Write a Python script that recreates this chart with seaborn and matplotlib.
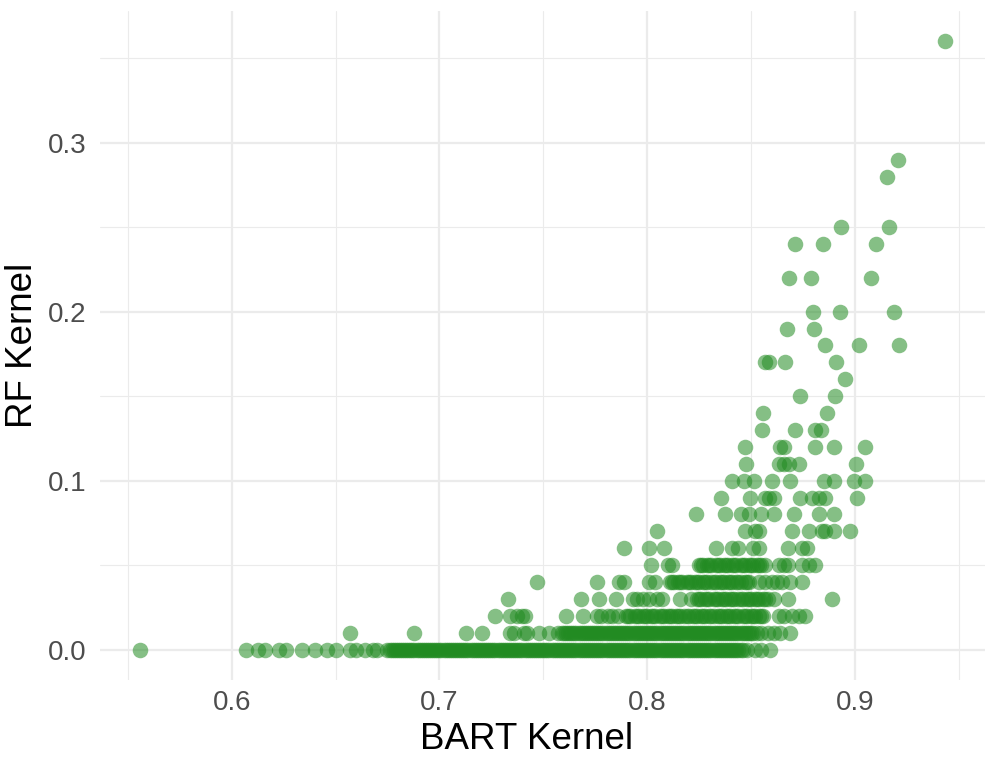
import matplotlib
matplotlib.use("Agg")
import matplotlib.pyplot as plt
import seaborn as sns
import pandas as pd
from matplotlib.ticker import MultipleLocator

# --- data: x values (BART kernel) for each RF-kernel level ---
x_000 = [0.556, 0.607, 0.6125, 0.616, 0.623, 0.626, 0.634, 0.640, 0.646, 0.650, 0.657, 0.660, 0.664, 0.668, 0.670,
         0.675, 0.677, 0.679, 0.681, 0.683, 0.685, 0.687, 0.689, 0.691, 0.693, 0.695, 0.697, 0.699, 0.701, 0.703,
         0.705, 0.707, 0.709, 0.711, 0.713, 0.715, 0.717, 0.719, 0.721, 0.723, 0.725, 0.727, 0.729, 0.731, 0.733,
         0.735, 0.737, 0.739, 0.741, 0.743, 0.745, 0.747, 0.749, 0.751, 0.753, 0.755, 0.757, 0.759, 0.761, 0.763,
         0.765, 0.767, 0.769, 0.771, 0.773, 0.775, 0.777, 0.779, 0.781, 0.783, 0.785, 0.787, 0.789, 0.791, 0.793,
         0.795, 0.797, 0.799, 0.801, 0.803, 0.805, 0.807, 0.809, 0.811, 0.813, 0.815, 0.817, 0.819, 0.821, 0.823,
         0.825, 0.827, 0.829, 0.831, 0.833, 0.835, 0.837, 0.839, 0.841, 0.843, 0.845, 0.848, 0.852, 0.855, 0.859,
         0.678, 0.684, 0.690, 0.696, 0.702, 0.708, 0.714, 0.720, 0.726, 0.732, 0.738, 0.744, 0.750, 0.756, 0.762,
         0.768, 0.774, 0.780, 0.786, 0.792, 0.798, 0.804, 0.810, 0.816, 0.822, 0.828, 0.834, 0.840, 0.846,
         0.676, 0.682, 0.688, 0.694, 0.700, 0.706, 0.712, 0.718, 0.724, 0.730, 0.736, 0.742, 0.748, 0.754, 0.760,
         0.766, 0.772, 0.778, 0.784, 0.790, 0.796, 0.802, 0.808, 0.814, 0.820, 0.826, 0.832, 0.838, 0.844,
         0.680, 0.686, 0.692, 0.698, 0.704, 0.710, 0.716, 0.722, 0.728, 0.734, 0.740, 0.746, 0.752, 0.758, 0.764,
         0.770, 0.776, 0.782, 0.788, 0.794, 0.800, 0.806, 0.812, 0.818, 0.824, 0.830, 0.836, 0.842]
x_001 = [0.657, 0.688, 0.713, 0.7205, 0.734, 0.736, 0.7405, 0.742, 0.748, 0.753, 0.757,
         0.759, 0.761, 0.763, 0.765, 0.767, 0.769, 0.771, 0.773, 0.775, 0.777, 0.779, 0.781, 0.783, 0.785, 0.787,
         0.789, 0.791, 0.793, 0.795, 0.797, 0.799, 0.801, 0.803, 0.805, 0.807, 0.809, 0.811, 0.813, 0.815, 0.817,
         0.819, 0.821, 0.823, 0.825, 0.827, 0.829, 0.831, 0.833, 0.835, 0.837, 0.839, 0.841, 0.843, 0.845, 0.847,
         0.849, 0.851, 0.853, 0.855, 0.858, 0.861, 0.864, 0.869,
         0.762, 0.768, 0.774, 0.780, 0.786, 0.792, 0.798, 0.804, 0.810, 0.816, 0.822, 0.828, 0.834, 0.840, 0.846,
         0.760, 0.766, 0.772, 0.778, 0.784, 0.790, 0.796, 0.802, 0.808, 0.814, 0.820, 0.826, 0.832, 0.838, 0.844,
         0.850, 0.764, 0.770, 0.776, 0.782, 0.788, 0.794, 0.800, 0.806, 0.812, 0.818, 0.824, 0.830, 0.836, 0.842,
         0.848]
x_002 = [0.727, 0.734, 0.7375, 0.740, 0.741, 0.761, 0.769, 0.776, 0.778, 0.781, 0.783, 0.786,
         0.790, 0.792, 0.794, 0.796, 0.798, 0.800, 0.802, 0.804, 0.806, 0.808, 0.810, 0.812, 0.814, 0.816, 0.818,
         0.820, 0.822, 0.824, 0.826, 0.828, 0.830, 0.832, 0.834, 0.836, 0.838, 0.840, 0.842, 0.844, 0.846, 0.848,
         0.850, 0.852, 0.854, 0.856, 0.8635, 0.866, 0.870, 0.873, 0.876,
         0.791, 0.795, 0.799, 0.803, 0.807, 0.811, 0.815, 0.819, 0.823, 0.827, 0.831, 0.835, 0.839, 0.843, 0.847,
         0.851, 0.855]
x_003 = [0.733, 0.768, 0.777, 0.785, 0.793, 0.795, 0.798, 0.801, 0.805, 0.807, 0.816, 0.821,
         0.824, 0.826, 0.828, 0.830, 0.832, 0.834, 0.836, 0.838, 0.840, 0.842, 0.844, 0.846, 0.848, 0.850, 0.852,
         0.854, 0.856, 0.858, 0.861, 0.868, 0.889,
         0.825, 0.829, 0.833, 0.837, 0.841, 0.845, 0.849, 0.853, 0.857]
x_004 = [0.747, 0.776, 0.7865, 0.789, 0.801, 0.804,
         0.811, 0.813, 0.815, 0.817, 0.819, 0.821, 0.823, 0.825, 0.827, 0.829, 0.831, 0.833, 0.835, 0.837, 0.839,
         0.841, 0.843, 0.845, 0.847, 0.849, 0.854, 0.857, 0.860, 0.8625, 0.865, 0.869, 0.8745,
         0.812, 0.816, 0.820, 0.824, 0.828, 0.832, 0.836, 0.840, 0.844, 0.848]
x_005 = [0.802, 0.810, 0.812,
         0.825, 0.827, 0.829, 0.831, 0.833, 0.835, 0.837, 0.839, 0.841, 0.843, 0.845, 0.847, 0.849, 0.851, 0.853,
         0.855, 0.857, 0.8635, 0.866, 0.868, 0.8745, 0.878, 0.881,
         0.826, 0.830, 0.834, 0.838, 0.842, 0.846, 0.850, 0.854]
x_006 = [0.789, 0.801, 0.808, 0.833, 0.841, 0.844, 0.851, 0.854, 0.868, 0.8745, 0.877]
x_007 = [0.805, 0.847, 0.852, 0.854, 0.870, 0.878, 0.884, 0.8855, 0.890, 0.8975]
x_008 = [0.8235, 0.8375, 0.845, 0.849, 0.855, 0.861, 0.8705, 0.883, 0.890]
x_009 = [0.8355, 0.8495, 0.857, 0.8587, 0.861, 0.8735, 0.8793, 0.883, 0.8856, 0.901]
x_010 = [0.841, 0.8466, 0.8514, 0.860, 0.8688, 0.885, 0.890, 0.8995, 0.905]
x_011 = [0.8476, 0.8635, 0.866, 0.8683, 0.873, 0.9005]
x_012 = [0.847, 0.864, 0.866, 0.881, 0.890, 0.905]
x_013 = [0.8553, 0.8712, 0.8808, 0.8837]
x_014 = [0.8558, 0.8865]
x_015 = [0.8736, 0.8904]
x_016 = [0.8952]
x_017 = [0.857, 0.8587, 0.8663, 0.891]
x_018 = [0.8856, 0.9019, 0.9212]
x_019 = [0.8673, 0.8803]
x_020 = [0.880, 0.8928, 0.9188]
x_022 = [0.8683, 0.8788, 0.9077]
x_024 = [0.8712, 0.8846, 0.910]
x_025 = [0.8933, 0.9163]
x_028 = [0.9154]
x_029 = [0.9207]
x_036 = [0.9433]

rows = {0.00: x_000, 0.01: x_001, 0.02: x_002, 0.03: x_003, 0.04: x_004, 0.05: x_005,
        0.06: x_006, 0.07: x_007, 0.08: x_008, 0.09: x_009, 0.10: x_010, 0.11: x_011,
        0.12: x_012, 0.13: x_013, 0.14: x_014, 0.15: x_015, 0.16: x_016, 0.17: x_017,
        0.18: x_018, 0.19: x_019, 0.20: x_020, 0.22: x_022, 0.24: x_024, 0.25: x_025,
        0.28: x_028, 0.29: x_029, 0.36: x_036}

xs, ys = [], []
for yv, xl in rows.items():
    xs.extend(xl)
    ys.extend([yv] * len(xl))
df = pd.DataFrame({"BART Kernel": xs, "RF Kernel": ys})

sns.set_theme(style="white")
plt.rcParams['font.family'] = ['Liberation Sans', 'DejaVu Sans']

fig = plt.figure(figsize=(9.97, 7.67), dpi=100)
ax = fig.add_axes([0.1003, 0.1134, 0.8877, 0.8723])

sns.scatterplot(data=df, x="BART Kernel", y="RF Kernel", ax=ax, color="#228B22",
                alpha=0.55, s=125, linewidth=0, zorder=3)

ax.set_xlim(0.5366, 0.9627)
ax.set_ylim(-0.018, 0.378)
ax.set_xticks([0.6, 0.7, 0.8, 0.9])
ax.set_xticklabels(["0.6", "0.7", "0.8", "0.9"])
ax.set_yticks([0.0, 0.1, 0.2, 0.3])
ax.set_yticklabels(["0.0", "0.1", "0.2", "0.3"])
ax.xaxis.set_minor_locator(MultipleLocator(0.05))
ax.yaxis.set_minor_locator(MultipleLocator(0.05))
ax.grid(which="major", color="#EBEBEB", linewidth=1.6, zorder=0)
ax.grid(which="minor", color="#EBEBEB", linewidth=0.8, zorder=0)
ax.set_axisbelow(True)
for sp in ax.spines.values():
    sp.set_visible(False)
ax.tick_params(axis="y", which="both", length=0, labelsize=20, labelcolor="#4D4D4D", pad=10)
ax.tick_params(axis="x", which="both", length=0, labelsize=20, labelcolor="#4D4D4D", pad=7)
ax.set_xlabel("BART Kernel", fontsize=26.5, color="black")
ax.set_ylabel("RF Kernel", fontsize=26.5, color="black")
ax.xaxis.set_label_coords(0.4825, -0.062)
ax.yaxis.set_label_coords(-0.068, 0.5)

fig.savefig("out.png", dpi=100)
